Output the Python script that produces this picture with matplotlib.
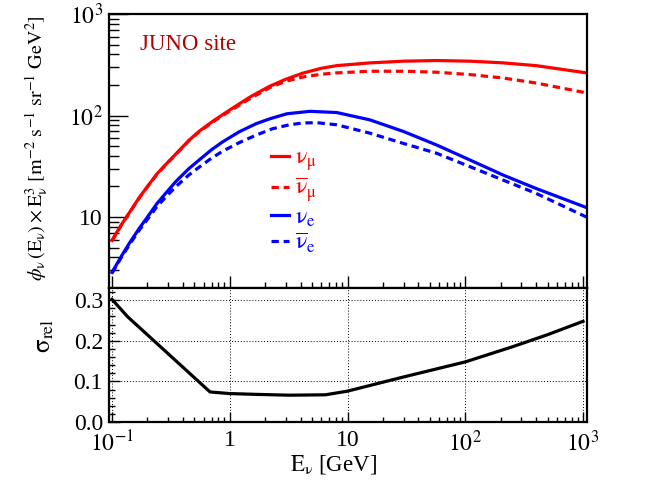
import matplotlib
matplotlib.use('Agg')
import matplotlib.pyplot as plt
from matplotlib.ticker import FixedLocator, LogLocator, NullFormatter, MultipleLocator, FixedFormatter

plt.rcParams['font.family'] = ['Liberation Serif', 'DejaVu Serif']
plt.rcParams['mathtext.fontset'] = 'stix'

# ---- data ----
E_numu = [0.1, 0.12, 0.14, 0.17, 0.2, 0.24, 0.29, 0.35, 0.45, 0.55, 0.7, 0.87, 1.2, 1.5, 1.8, 2.2, 3.0,
          4.2, 6.0, 8.1, 15.5, 30, 57, 110, 210, 400, 1070]
F_numu = [5.9, 8.4, 11.0, 15.5, 20.0, 26.5, 33.5, 42.0, 57, 70, 86, 102, 130, 153, 172, 195, 228,
          262, 292, 310, 330, 343, 348, 343, 330, 310, 263]

E_anumu = [0.1, 0.12, 0.14, 0.17, 0.2, 0.24, 0.29, 0.35, 0.45, 0.55, 0.7, 0.87, 1.2, 1.5, 1.8, 2.2, 3.0,
           4.2, 6.0, 8.1, 15.5, 30, 57, 110, 210, 400, 1070]
F_anumu = [5.8, 8.3, 10.9, 15.3, 19.8, 26.2, 33.2, 41.5, 56.5, 69, 84.5, 100, 126, 148, 166, 189, 218,
           240, 255, 263, 273, 273, 267, 253, 234, 209, 167]

E_nue = [0.1, 0.12, 0.14, 0.17, 0.2, 0.24, 0.29, 0.35, 0.45, 0.55, 0.7, 0.87, 1.2, 1.67, 2.2, 3.05,
         4.8, 8.1, 15.5, 30, 57, 110, 210, 400, 1070]
F_nue = [2.85, 4.1, 5.5, 7.7, 10.0, 13.5, 17.5, 22.5, 30, 36.5, 46, 55, 69, 83, 93, 104,
         110, 107, 90.6, 69.5, 51.3, 36.4, 25.9, 19.1, 12.4]

E_anue = [0.1, 0.12, 0.14, 0.17, 0.2, 0.24, 0.29, 0.35, 0.45, 0.55, 0.7, 0.87, 1.2, 1.67, 2.3, 3.2,
          4.2, 5.5, 8.1, 15.5, 30, 57, 110, 210, 400, 1070]
F_anue = [2.8, 4.0, 5.3, 7.4, 9.5, 12.6, 16.0, 20.0, 26, 31, 38, 44.5, 54, 64, 74, 81,
          84.5, 85, 81, 67, 53, 42.5, 31.3, 23.1, 17.1, 10.0]

E_sig = [0.1, 0.136, 0.68, 1.0, 1.7, 3.2, 6.5, 10, 30, 100, 250, 500, 1000]
S_sig = [0.302, 0.259, 0.074, 0.070, 0.068, 0.066, 0.067, 0.076, 0.111, 0.148, 0.185, 0.215, 0.248]

x_ticks = [0.1, 1, 10, 100, 1000]
x_ticklabels = [r'$10^{-1}$', '1', '10', r'$10^{2}$', r'$10^{3}$']
y1_ticks = [10, 100, 1000]
y1_ticklabels = ['10', r'$10^{2}$', r'$10^{3}$']
y2_ticks = [0.0, 0.1, 0.2, 0.3]
y2_ticklabels = ['0.0', '0.1', '0.2', '0.3']

W, H = 668, 480
fig = plt.figure(figsize=(W / 100, H / 100), dpi=100)
L, R = 108.5, 587
ax1 = fig.add_axes([L / W, 1 - 288 / H, (R - L) / W, (288 - 14) / H])
ax2 = fig.add_axes([L / W, 1 - 422 / H, (R - L) / W, (422 - 288) / H])

xlim = (0.0934, 1081)
lw = 2.3
dash = (0, (2.3, 1.5))
l1, = ax1.plot(E_numu, F_numu, color='#ff0000', lw=lw, label=r'$\mathrm{\nu}_{\mathrm{\mu}}$')
l2, = ax1.plot(E_anumu, F_anumu, color='#ff0000', lw=lw, ls=dash, label=r'$\overline{\mathrm{\nu}}_{\mathrm{\mu}}$')
l3, = ax1.plot(E_nue, F_nue, color='#0000ff', lw=lw, label=r'$\mathrm{\nu}_{\mathrm{e}}$')
l4, = ax1.plot(E_anue, F_anue, color='#0000ff', lw=lw, ls=dash, label=r'$\overline{\mathrm{\nu}}_{\mathrm{e}}$')

ax1.set_xscale('log')
ax1.set_yscale('log')
ax1.set_xlim(*xlim)
ax1.set_ylim(2, 1000)
ax1.xaxis.set_major_locator(FixedLocator(x_ticks))
ax1.xaxis.set_minor_locator(LogLocator(base=10, subs=range(2, 10), numticks=20))
ax1.xaxis.set_major_formatter(NullFormatter())
ax1.xaxis.set_minor_formatter(NullFormatter())
ax1.yaxis.set_major_locator(FixedLocator(y1_ticks))
ax1.yaxis.set_major_formatter(FixedFormatter(y1_ticklabels))
ax1.yaxis.set_minor_locator(LogLocator(base=10, subs=range(2, 10), numticks=20))
ax1.yaxis.set_minor_formatter(NullFormatter())
ax1.tick_params(axis='both', which='both', direction='in', top=False, right=False, color='black')
ax1.tick_params(axis='y', which='major', length=14, width=1.0, labelsize=17, pad=4)
ax1.tick_params(axis='y', which='minor', length=7, width=1.0)
ax1.tick_params(axis='x', which='major', length=8.5, width=1.0)
ax1.tick_params(axis='x', which='minor', length=4.3, width=1.0)

ax1.text(140 / W, 1 - 45 / H, 'JUNO site', transform=fig.transFigure, color='#b00000',
         fontsize=16.5, ha='left', va='center')

leg = ax1.legend(handles=[l1, l2, l3, l4], loc='upper left',
                 bbox_to_anchor=((270.5 - L) / (R - L), (288 - 147.5) / (288 - 14)),
                 frameon=False, fontsize=17, handlelength=0.8, handletextpad=0.25,
                 labelspacing=0.1, borderpad=0, borderaxespad=0)
for t, c in zip(leg.get_texts(), ['#ff0000', '#ff0000', '#0000ff', '#0000ff']):
    t.set_color(c)

ax2.plot(E_sig, S_sig, color='black', lw=2.3)
ax2.set_xscale('log')
ax2.set_xlim(*xlim)
ax2.set_ylim(0, 0.33)
ax2.xaxis.set_major_locator(FixedLocator(x_ticks))
ax2.xaxis.set_major_formatter(FixedFormatter(x_ticklabels))
ax2.xaxis.set_minor_locator(LogLocator(base=10, subs=range(2, 10), numticks=20))
ax2.xaxis.set_minor_formatter(NullFormatter())
ax2.yaxis.set_major_locator(FixedLocator(y2_ticks))
ax2.yaxis.set_major_formatter(FixedFormatter(y2_ticklabels))
ax2.yaxis.set_minor_locator(MultipleLocator(0.02))
ax2.tick_params(axis='both', which='both', direction='in', top=False, right=False)
ax2.tick_params(axis='y', which='major', length=8, width=1.0, labelsize=17, pad=4)
ax2.tick_params(axis='y', which='minor', length=4, width=1.0)
ax2.tick_params(axis='x', which='major', length=7, width=1.0, labelsize=17, pad=6)
ax2.tick_params(axis='x', which='minor', length=3.6, width=1.0)
ax2.grid(True, which='major', color='black', lw=0.7, ls=(0, (1, 2)))

for ax in (ax1, ax2):
    for s in ax.spines.values():
        s.set_linewidth(1.6)

fig.text(37 / W, 1 - 148 / H,
         r'$\phi_{\mathrm{\nu}}\,(\mathrm{E}_{\mathrm{\nu}})\times\mathrm{E}_{\mathrm{\nu}}^{3}\ [\mathrm{m}^{-2}\ \mathrm{s}^{-1}\ \mathrm{sr}^{-1}\ \mathrm{GeV}^{2}]$',
         rotation=90, ha='center', va='center', fontsize=14.5)
fig.text(45 / W, 1 - 336 / H, r'$\mathrm{\sigma}_{\mathrm{rel}}$',
         rotation=90, ha='center', va='center', fontsize=18)
fig.text(334 / W, 1 - 465 / H, r'$\mathrm{E}_{\mathrm{\nu}}$ [GeV]',
         ha='center', va='center', fontsize=16.5)

fig.savefig('out.png', dpi=100)
